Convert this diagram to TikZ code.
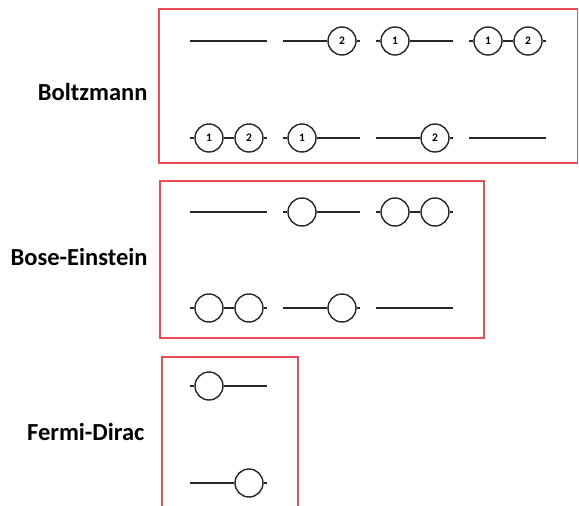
\documentclass[tikz,border=0pt]{standalone}
\usepackage{fontspec}
\setsansfont{Carlito}
\tikzset{
  lvl/.style={line width=1.6pt, draw=black!85},
  part/.style={circle, draw=black!85, line width=1.4pt, minimum size=28pt, inner sep=0pt,
    font=\sffamily\bfseries\fontsize{11.5}{11.5}\selectfont},
  frame/.style={draw={rgb,255:red,235;green,75;blue,85}, line width=1.3pt},
  stat/.style={anchor=east, font=\sffamily\bfseries\fontsize{24.5}{25}\selectfont}
}
\newcommand\lvlEmpty[3]{%
  \coordinate (#1s) at (#2,#3); \coordinate (#1e) at (#2+77,#3);
  \draw[lvl] (#1s) -- (#1e);}
\newcommand\lvlLeft[4]{%
  \coordinate (#1s) at (#2,#3); \coordinate (#1e) at (#2+77,#3);
  \node[part] (#1a) at (#2+19,#3) {#4};
  \draw[lvl] (#1s) -- (#1a) -- (#1e);}
\newcommand\lvlRight[4]{%
  \coordinate (#1s) at (#2,#3); \coordinate (#1e) at (#2+77,#3);
  \node[part] (#1b) at (#2+59,#3) {#4};
  \draw[lvl] (#1s) -- (#1b) -- (#1e);}
\newcommand\lvlBoth[5]{%
  \coordinate (#1s) at (#2,#3); \coordinate (#1e) at (#2+77,#3);
  \node[part] (#1a) at (#2+19,#3) {#4};
  \node[part] (#1b) at (#2+59,#3) {#5};
  \draw[lvl] (#1s) -- (#1a) -- (#1b) -- (#1e);}
\begin{document}
\begin{tikzpicture}[x=1pt,y=-1pt]
\useasboundingbox (0,0) rectangle (579,506);
% frames
\draw[frame] (159,9) rectangle (577.5,163);
\draw[frame] (160,181) rectangle (484,338);
\draw[frame] (162,512) -- (162,357) -- (298,357) -- (298,512);
% labels
\node[stat] (lb) at (151,92) {Boltzmann};
\node[stat] (lbe) at (151,257) {Bose-Einstein};
\node[stat] (lfd) at (148,432) {Fermi-Dirac};
% Boltzmann
\lvlEmpty{ba}{190}{41}
\lvlRight{bb}{283}{41}{2}
\lvlLeft{bc}{376}{41}{1}
\lvlBoth{bd}{469}{41}{1}{2}
\lvlBoth{be}{190}{138}{1}{2}
\lvlLeft{bf}{283}{138}{1}
\lvlRight{bg}{376}{138}{2}
\lvlEmpty{bh}{469}{138}
% Bose-Einstein
\lvlEmpty{ea}{190}{212}
\lvlLeft{eb}{283}{212}{}
\lvlBoth{ec}{376}{212}{}{}
\lvlBoth{ed}{190}{308}{}{}
\lvlRight{ee}{283}{308}{}
\lvlEmpty{ef}{376}{308}
% Fermi-Dirac
\lvlLeft{fa}{190}{386}{}
\lvlRight{fb}{190}{483}{}
\end{tikzpicture}
\end{document}
